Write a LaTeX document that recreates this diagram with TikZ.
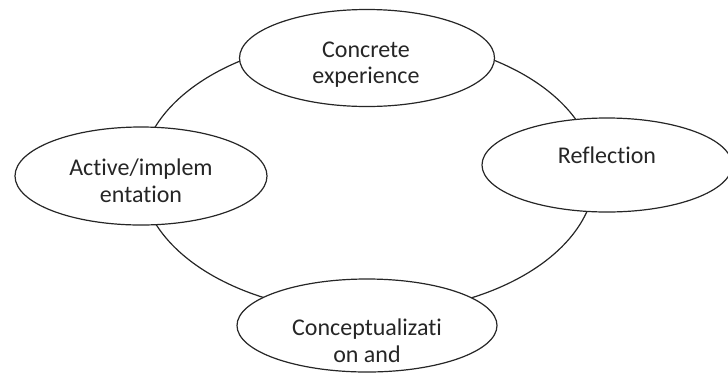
\documentclass[tikz,border=0pt]{standalone}
\usepackage{fontspec}
\setmainfont{Carlito}[Ligatures={NoCommon,NoContextual}]
\usetikzlibrary{shapes.geometric}
\pgfdeclarelayer{background}
\pgfsetlayers{background,main}
\begin{document}
\begin{tikzpicture}[x=1pt,y=-1pt,
  oval/.style={ellipse,draw=black!85,line width=1.2pt,fill=white,inner sep=0pt},
  lbl/.style={anchor=base,inner sep=0pt,font=\fontsize{24}{28}\selectfont,text=black!85},
  link/.style={draw=black!85,line width=1.2pt}]
\useasboundingbox (0,0) rectangle (728,376);
\coordinate (c) at (368,175);
% ovals
\node[oval,minimum width=255pt,minimum height=97pt] (top) at (367,58) {};
\node[oval,minimum width=252pt,minimum height=98pt] (left) at (141,176) {};
\node[oval,minimum width=250pt,minimum height=94pt] (right) at (607,165) {};
\node[oval,minimum width=260pt,minimum height=93pt] (bottom) at (367,325.5) {};
% labels
\node[lbl] (t1) at (366,57) {Concrete};
\node[lbl] (t2) at (366,83) {experience};
\node[lbl] (l1) at (141,175) {Active/implem};
\node[lbl] (l2) at (141,202) {entation};
\node[lbl] (r1) at (607,163) {Reflection};
\node[lbl] (b1) at (367,335) {Conceptualizati};
\node[lbl] (b2) at (367,362) {on and};
% cycle arcs (hidden ends covered by the ovals)
\begin{pgfonlayer}{background}
\draw[link] ([shift={(120:227 and -138)}]c) arc[start angle=120,end angle=164,x radius=227,y radius=-138];
\draw[link] ([shift={(197:227 and -138)}]c) arc[start angle=197,end angle=248,x radius=227,y radius=-138];
\draw[link] ([shift={(292:227 and -138)}]c) arc[start angle=292,end angle=348,x radius=227,y radius=-138];
\draw[link] ([shift={(20:227 and -138)}]c) arc[start angle=20,end angle=60,x radius=227,y radius=-138];
\end{pgfonlayer}
\end{tikzpicture}
\end{document}
